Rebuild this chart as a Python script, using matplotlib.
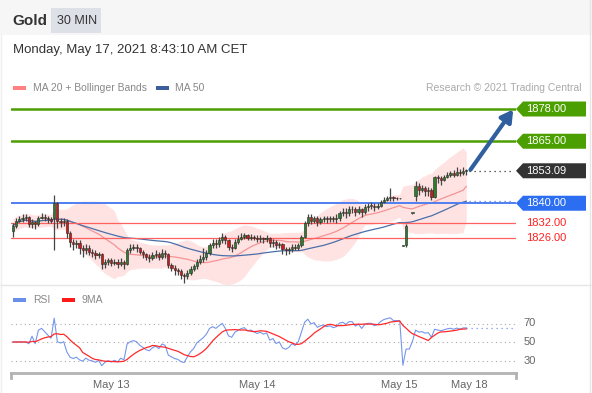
import matplotlib.pyplot as plt
import numpy as np
import pandas as pd
from matplotlib.patches import Polygon, Rectangle
from matplotlib.lines import Line2D
from matplotlib.transforms import IdentityTransform

plt.rcParams['font.family'] = ['Liberation Sans', 'DejaVu Sans']

# cours de cloture des bougies 30 min (None = pas de cotation)
closes = [
    1831, 1833, 1833.5, 1834, 1834.5, 1831.5, 1832.5, 1831.5, 1834, 1834.5,
    1834, 1833.5, 1833, 1840, 1833, 1832.5, 1833, 1828, 1824.5, 1823.5,
    1824, 1822, 1821, 1822, 1820.5, 1820, 1819, 1819.5, 1815.5, 1816.5,
    1817, 1816, 1816.5, 1815.5, 1816.5, 1815.5, 1821, 1822, 1822.5, 1822,
    1820.5, 1819.5, 1818.5, 1818, 1819, 1819.5, 1818.5, 1820, 1819.5, 1815,
    1814, 1813, 1812.5, 1811, 1810.5, 1812, 1813.5, 1814.5, 1816.5, 1817.5,
    1818.5, 1820, 1823, 1824, 1823.5, 1825, 1826.5, 1825, 1822.5, 1822,
    1824.5, 1825.5, 1826.5, 1827, 1826, 1826.5, 1826, 1825.5, 1826, 1825.5,
    1826, 1824, 1824.5, 1823, 1823.5, 1821.5, 1821, 1821.5, 1822.5, 1822,
    1823, 1826.5, 1832, 1834.5, 1833, 1834, 1832.5, 1833.5, 1834, 1833.5,
    1834, 1833.5, 1834, 1836, 1836.5, 1836, 1837.5, 1837.5, 1836.5, 1837.5,
    1836.5, 1838.5, 1839, 1839, 1838.5, 1839, 1840.5, 1841.5, 1842, 1842.5,
    1842, 1842, 1842, 1822.8, 1831, None, 1836, 1847, 1845.5, 1846,
    1845, 1845.5, 1842.5, 1850.5, 1850, 1849.5, 1850.5, 1851.5, 1852, 1851.5,
    1852.5, 1852, 1853, 1853.09,
]
highs = [
    1832, 1834, 1835, 1835.5, 1835.5, 1835, 1833.5, 1833, 1835, 1836,
    1835.5, 1835, 1834.5, 1843.3, 1840.5, 1834, 1834, 1833.5, 1829, 1825.5,
    1825, 1825, 1823, 1823.5, 1823, 1821.5, 1821, 1820.5, 1820, 1817.5,
    1818, 1818, 1817.5, 1817.5, 1818, 1817, 1822, 1823.5, 1823.5, 1823.5,
    1822.5, 1821, 1820, 1819.5, 1820.5, 1821, 1820.5, 1821.5, 1821, 1820,
    1816, 1815, 1814, 1813.5, 1812, 1813, 1814.5, 1815.5, 1817.5, 1819,
    1822, 1821, 1824, 1825.5, 1825.5, 1826.5, 1828, 1827, 1825.5, 1823.5,
    1825.5, 1827, 1828, 1828, 1827.5, 1827.5, 1827, 1827, 1827, 1826.5,
    1827, 1826.5, 1825.5, 1825, 1824.5, 1824, 1822.5, 1822.5, 1823.5, 1823.5,
    1824, 1827, 1833, 1835.5, 1835.5, 1835, 1835, 1834.5, 1835, 1835,
    1835, 1835, 1835.5, 1837, 1838, 1838, 1839, 1839, 1838.5, 1839,
    1838, 1839.5, 1840, 1840.5, 1840, 1840, 1841.5, 1842.5, 1843, 1846,
    1843, 1842.5, 1842.3, 1823, 1831.5, None, 1836.2, 1849, 1848, 1847.5,
    1847, 1846.5, 1846, 1851, 1851.5, 1851, 1851.5, 1852.5, 1853, 1853.5,
    1854.5, 1854, 1854.5, 1854,
]
lows = [
    1826.5, 1830, 1832.5, 1832.5, 1833, 1830.5, 1830, 1829.5, 1831, 1833.5,
    1833, 1832, 1832, 1821, 1830, 1830.5, 1831, 1826, 1822.5, 1821,
    1822, 1819.5, 1818.5, 1819.5, 1819, 1818.5, 1817.5, 1818, 1813.5, 1814,
    1815, 1814.5, 1815, 1814, 1814.5, 1813.5, 1815, 1820, 1821, 1820.5,
    1819.5, 1818, 1817, 1816.5, 1817, 1818, 1817, 1817.5, 1818, 1814,
    1812.5, 1811, 1811, 1809.5, 1808, 1809.5, 1811, 1812.5, 1813.5, 1815.5,
    1816.5, 1817, 1819, 1822, 1822, 1822.5, 1824, 1823.5, 1821, 1820.5,
    1821.5, 1823.5, 1825, 1825.5, 1825, 1825, 1825, 1824.5, 1824.5, 1824,
    1824.5, 1822.5, 1822.5, 1821.5, 1822, 1819.5, 1819, 1819.5, 1820.5, 1821,
    1821, 1822.5, 1826, 1831, 1831.5, 1832, 1831, 1831.5, 1832.5, 1832,
    1832.5, 1832.5, 1832, 1833, 1835, 1834, 1835, 1836, 1835, 1835.5,
    1834.5, 1835.5, 1837, 1837.5, 1837, 1837.5, 1838.5, 1840, 1841, 1841,
    1841, 1841.5, 1841.7, 1822.6, 1822.5, None, 1835.8, 1841, 1843.5, 1844.5,
    1843, 1843, 1841.5, 1842, 1848, 1847.5, 1849, 1850, 1850.5, 1850.5,
    1851, 1851, 1851.5, 1851.5,
]
# ouvertures qui ne sont pas la cloture precedente (debut et reprise du week-end)
gap_opens = {0: 1829, 13: 1834, 123: 1822.8, 124: 1823, 126: 1836, 127: 1843}

niveaux_verts = [1878.00, 1865.00]
niveau_bleu = 1840.00
niveaux_rouges = [1832.00, 1826.00]
dernier_prix = 1853.09
rsi_niveaux = [70, 50, 30]
dates_pos = [31, 77, 122, 144]
dates_txt = ['May 13', 'May 14', 'May 15', 'May 18']

W, H = 592, 393
def fx(x):
    return x / W
def fy(y):
    return 1 - y / H

# ouvertures
opens = [None] * len(closes)
prev = None
for i, c in enumerate(closes):
    if i in gap_opens:
        opens[i] = gap_opens[i]
    elif c is not None:
        opens[i] = prev
    if c is not None:
        prev = c

# indicateurs
s = pd.Series([np.nan if c is None else c for c in closes], dtype=float).ffill()
ma20 = s.rolling(20, min_periods=1).mean()
std20 = s.rolling(20, min_periods=2).std().bfill()
haut = ma20 + 2 * std20
bas = ma20 - 2 * std20
ma50 = s.rolling(50, min_periods=1).mean()
delta = s.diff().fillna(0)
gain = delta.clip(lower=0).ewm(alpha=1 / 14, adjust=False).mean()
perte = (-delta.clip(upper=0)).ewm(alpha=1 / 14, adjust=False).mean()
rsi = 100 - 100 / (1 + gain / perte.replace(0, np.nan))
rsi = rsi.fillna(50)
rsi_ma = rsi.rolling(9, min_periods=1).mean()
x = np.arange(len(closes))

fig = plt.figure(figsize=(5.92, 3.93), dpi=100)
fig.patch.set_facecolor('white')

# bandeau du haut
fig.add_artist(Rectangle((0, fy(35)), 1, 35 / H, fc='#f6f6f6', ec='none'))
fig.add_artist(Rectangle((fx(51), fy(33)), 50 / W, 25 / H, fc='#dde1e7', ec='none'))
fig.text(fx(12), fy(21), 'Gold', fontsize=11, fontweight='bold', color='#333333', va='center')
fig.text(fx(57), fy(21), '30 MIN', fontsize=9, color='#333333', va='center')
fig.text(fx(13), fy(50), 'Monday, May 17, 2021 8:43:10 AM CET', fontsize=9.5, color='#333333', va='center')
fig.add_artist(Line2D([0, 1], [fy(285), fy(285)], color='#e6e6e6', lw=1))
fig.add_artist(Line2D([fx(590), fx(590)], [0, 1], color='#e6e6e6', lw=1))
fig.add_artist(Line2D([fx(1), fx(1)], [0, fy(35)], color='#eeeeee', lw=1))

# legendes
fig.add_artist(Rectangle((fx(13), fy(90)), 13 / W, 4 / H, fc='#ff8080', ec='none'))
fig.text(fx(33), fy(88), 'MA 20 + Bollinger Bands', fontsize=7.5, color='#888888', va='center')
fig.add_artist(Rectangle((fx(156), fy(90)), 13 / W, 4 / H, fc='#3c5f9c', ec='none'))
fig.text(fx(175), fy(88), 'MA 50', fontsize=7.5, color='#888888', va='center')
fig.text(fx(581), fy(88), 'Research \u00a9 2021 Trading Central', fontsize=7.5, color='#aaaaaa', va='center', ha='right')
fig.add_artist(Rectangle((fx(13), fy(302)), 13 / W, 4 / H, fc='#6a8fe8', ec='none'))
fig.text(fx(33), fy(300), 'RSI', fontsize=7.5, color='#888888', va='center')
fig.add_artist(Rectangle((fx(62), fy(302)), 13 / W, 4 / H, fc='#ff1a1a', ec='none'))
fig.text(fx(82), fy(300), '9MA', fontsize=7.5, color='#888888', va='center')

# graphique des prix
xmin = -0.63
xmax = xmin + 505 / 3.17
ax = fig.add_axes([fx(11), fy(285), 505 / W, 185 / H])
ax.set_xlim(xmin, xmax)
ax.set_ylim(1807.03, 1881.63)
ax.axis('off')

ax.fill_between(x, bas, haut, color='#ffe3e3', lw=0, zorder=1)
ax.plot(x, ma20, color='#f59494', lw=0.9, zorder=2)
ax.plot(x, ma50, color='#4a6fa8', lw=0.9, zorder=2)

for n in niveaux_verts:
    ax.axhline(n, color='#4c9f00', lw=1.8, zorder=3)
ax.axhline(niveau_bleu, color='#4f7ff0', lw=1.4, zorder=3)
for n in niveaux_rouges:
    ax.axhline(n, color='#ff6060', lw=0.9, zorder=3)

for i in x:
    if closes[i] is None:
        continue
    o, c = opens[i], closes[i]
    ax.vlines(i, lows[i], highs[i], color='#444444', lw=0.9, zorder=4)
    bottom = min(o, c)
    hauteur = max(abs(c - o), 0.3)
    couleur = '#2e7d2e' if c >= o else '#cc1a1a'
    ax.bar(i, hauteur, bottom=bottom, width=0.7, color=couleur, edgecolor='#2a2a2a', lw=0.4, zorder=5)

# prolongements pointilles
ax.plot([x[-1] + 1, xmax - 1], [dernier_prix, dernier_prix], color='#333333', lw=0.9, ls=(0, (1, 3)), clip_on=False)
ax.plot([x[-1] + 1, xmax - 1], [ma50.iloc[-1], ma50.iloc[-1]], color='#4f7ff0', lw=0.9, ls=(0, (1, 3)), clip_on=False)

ax.annotate('', xy=(157.8, 1877.8), xytext=(144.3, 1853.5),
            arrowprops=dict(arrowstyle='-|>,head_length=0.7,head_width=0.4', color='#2f5f9f', lw=3,
                            shrinkA=0, shrinkB=0),
            annotation_clip=False, zorder=6)

def etiquette(prix, couleur, fond):
    yd = ax.transData.transform((0, prix))[1]
    if fond is not None:
        pts = [(516, yd), (523, yd + 7.5), (586, yd + 7.5), (586, yd - 7.5), (523, yd - 7.5)]
        fig.add_artist(Polygon(pts, closed=True, fc=fond, ec='none', transform=IdentityTransform()))
    fig.text(fx(526), yd / H, f'{prix:.2f}', fontsize=8, color=couleur, va='center')

for n in niveaux_verts:
    etiquette(n, 'white', '#4c9f00')
etiquette(dernier_prix, 'white', '#333333')
etiquette(niveau_bleu, 'white', '#2b6ef2')
for n in niveaux_rouges:
    etiquette(n, '#ff2020', None)

# RSI
ax2 = fig.add_axes([fx(11), fy(373), 505 / W, 68 / H])
ax2.set_xlim(xmin, xmax)
ax2.set_ylim(50 - (373 - 342) / 0.925, 50 + (342 - 305) / 0.925)
for sp in ['top', 'right', 'left']:
    ax2.spines[sp].set_visible(False)
ax2.spines['bottom'].set_color('#b3b3b3')
ax2.spines['bottom'].set_linewidth(2)
ax2.set_yticks([])
ax2.set_xticks(dates_pos, dates_txt)
ax2.tick_params(axis='x', length=0, pad=5, labelsize=8, labelcolor='#666666')
for v in rsi_niveaux:
    ax2.axhline(v, color='#aaaaaa', lw=0.8, ls=(0, (1, 3)))
    ax2.text(1.015, v, str(v), transform=ax2.get_yaxis_transform(), fontsize=8, color='#666666', va='center')
ax2.plot(x, rsi, color='#7596ea', lw=0.8)
ax2.plot(x, rsi_ma, color='#ff2a2a', lw=0.9)
ax2.plot([x[-1], xmax - 1], [rsi.iloc[-1], rsi.iloc[-1]], color='#7596ea', lw=0.9, ls=(0, (1, 3)), clip_on=False)
for xe in [11, 516]:
    fig.add_artist(Line2D([fx(xe), fx(xe)], [fy(373), fy(378)], color='#b3b3b3', lw=2))

fig.savefig('out.png', dpi=100)
